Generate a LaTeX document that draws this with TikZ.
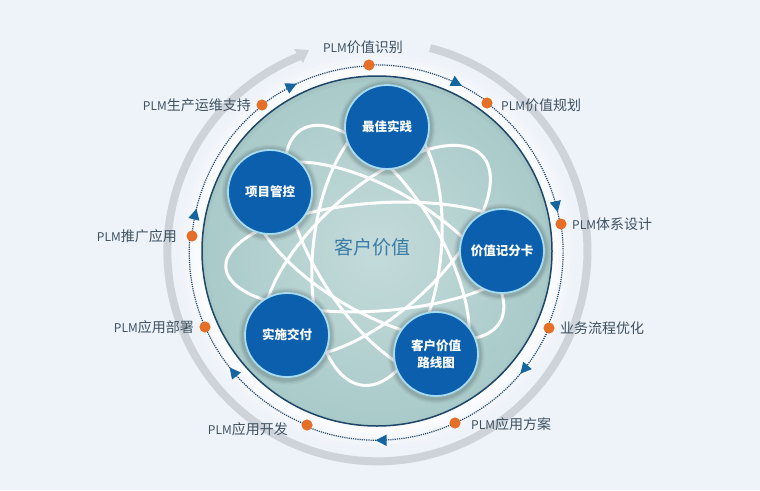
\documentclass[tikz,border=0pt]{standalone}
\usepackage{fontspec}
\setmainfont{Noto Sans CJK SC}
\usetikzlibrary{arrows.meta,decorations.markings,calc}
\definecolor{bgc}{HTML}{EEF3FA}
\definecolor{ringc}{HTML}{CDD3D9}
\definecolor{rimc}{HTML}{1E4668}
\definecolor{discin}{HTML}{C4DBDA}
\definecolor{discout}{HTML}{A8CAC9}
\definecolor{ballc}{HTML}{0B5FAC}
\definecolor{ballrim}{HTML}{A6DCF2}
\definecolor{dotc}{HTML}{E66F28}
\definecolor{orbitc}{HTML}{2A4C6C}
\definecolor{headc}{HTML}{15659F}
\definecolor{labelc}{HTML}{3F5160}
\definecolor{titlec}{HTML}{3A7CA8}
\newcommand{\plm}{{\fontsize{12}{12}\selectfont PLM}}
\tikzset{
  ballnode/.style={circle,fill=ballc,draw=ballrim,line width=1.8pt,minimum size=84pt,inner sep=0pt,
    text=white,font=\fontsize{12.5}{17}\selectfont\bfseries,align=center},
  dotnode/.style={circle,fill=dotc,minimum size=11pt,inner sep=0pt},
  lab/.style={text=labelc,font=\fontsize{14}{14}\selectfont,inner sep=0pt},
  orbit/.style={draw=orbitc,line width=1.2pt,densely dotted},
  arrowat/.style={postaction={decorate,decoration={markings,mark=at position #1 with
    {\arrow[headc,solid]{Triangle[length=11pt,width=11pt]}}}}},
  whiteloop/.style={draw=white,line width=3pt},
  ringline/.style={draw=ringc,line width=8pt}
}
\begin{document}
\begin{tikzpicture}[x=1pt,y=1pt]
\useasboundingbox (0,-490) rectangle (760,0);
\fill[bgc] (0,-490) rectangle (760,0);
\coordinate (c) at (377,-251);
% halo
\foreach \r/\op in {198/.12,194/.15,190/.2,186/.3,182/.4}
  \fill[white,opacity=\op] (c) circle[radius=\r];
% grey ring with arrow
\draw[ringline] (430,-48) arc[start angle=75.5,end angle=-248.5,radius=210];
\fill[ringc] (294,-49) -- (309,-50) -- (303,-63) -- cycle;
% disc
\shade[inner color=discin,outer color=discout] (c) circle[radius=175];
\begin{scope}
\clip (c) circle[radius=175];
\foreach \r/\op in {174/.05,171/.03}
  \draw[black!60,line width=3pt,opacity=\op] ($(c)+(0,-2)$) circle[radius=\r+2];
\end{scope}
% white loops
\foreach \a/\ra/\rb/\dy in {150/142/62/0,122/143/62/0,84/135/64/0,42/142/62/0,4/152/54/6}
  \draw[whiteloop,rotate around={\a:($(c)+(0,-\dy)$)}] ($(c)+(0,-\dy)$) ellipse[x radius=\ra,y radius=\rb];
\draw[rimc,line width=1.5pt] (c) circle[radius=175];
% balls
\foreach \x/\y in {387/127,270/192,502/251,287/335,436/354}
  \foreach \r/\op in {48.5/.04,47/.06,45.5/.08}
    \fill[black,opacity=\op] (\x,-\y-1) circle[radius=\r];
\node[ballnode] (b1) at (387,-127) {最佳实践};
\node[ballnode] (b2) at (270,-192) {项目管控};
\node[ballnode] (b3) at (502,-251) {价值记分卡};
\node[ballnode] (b4) at (287,-335) {实施交付};
\node[ballnode] (b5) at (436,-354) {客户价值\\路线图};
\node[text=titlec,font=\fontsize{19}{19}\selectfont,inner sep=0pt] (t) at (372,-247) {客户价值};
% dots
\node[dotnode] (d1) at (369,-65) {};
\node[dotnode] (d2) at (487,-103) {};
\node[dotnode] (d3) at (561,-224) {};
\node[dotnode] (d4) at (549,-328) {};
\node[dotnode] (d5) at (455,-423) {};
\node[dotnode] (d6) at (307,-425) {};
\node[dotnode] (d7) at (205,-327) {};
\node[dotnode] (d8) at (192,-236) {};
\node[dotnode] (d9) at (262,-105) {};
% orbit
\draw[orbit,arrowat=.76] (d1.center) arc[start angle=92.1,end angle=53.3,radius=187];
\draw[orbit,arrowat=.91] (d2.center) arc[start angle=53.3,end angle=8.6,radius=187];
\draw[orbit] (d3.center) arc[start angle=8.6,end angle=-23.7,radius=187];
\draw[orbit,arrowat=.40] (d4.center) arc[start angle=-23.7,end angle=-65.2,radius=187];
\draw[orbit,arrowat=.54] (d5.center) arc[start angle=-65.2,end angle=-111.7,radius=187];
\draw[orbit,arrowat=.67] (d6.center) arc[start angle=248.3,end angle=203.7,radius=187];
\draw[orbit] (d7.center) arc[start angle=203.7,end angle=175,radius=187];
\draw[orbit,arrowat=.18] (d8.center) arc[start angle=175,end angle=127.8,radius=187];
\draw[orbit,arrowat=.35] (d9.center) arc[start angle=127.8,end angle=92.1,radius=187];
\foreach \n in {d1,d2,d3,d4,d5,d6,d7,d8,d9}
  \fill[dotc] (\n) circle[radius=5.3];
% labels
\node[lab] (l1) at (363,-47) {\plm 价值识别};
\node[lab,anchor=west] (l2) at (501,-105) {\plm 价值规划};
\node[lab,anchor=west] (l3) at (572,-224) {\plm 体系设计};
\node[lab,anchor=west] (l4) at (560,-328) {业务流程优化};
\node[lab,anchor=west] (l5) at (471,-424) {\plm 应用方案};
\node[lab,anchor=east] (l6) at (288,-429) {\plm 应用开发};
\node[lab,anchor=east] (l7) at (194,-327) {\plm 应用部署};
\node[lab,anchor=east] (l8) at (177,-236) {\plm 推广应用};
\node[lab,anchor=east] (l9) at (251,-105) {\plm 生产运维支持};
\end{tikzpicture}
\end{document}
